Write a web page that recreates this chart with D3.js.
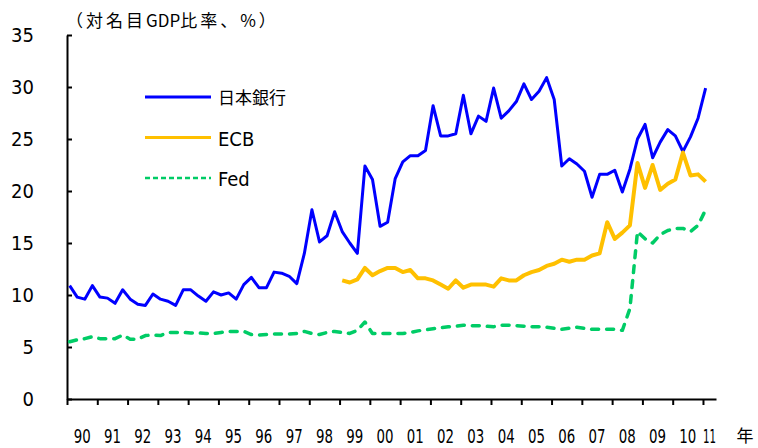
<!DOCTYPE html>
<html>
<head>
<meta charset="utf-8">
<script src="https://cdn.jsdelivr.net/npm/d3@7"></script>
<style>
  body { margin: 0; background: #fff; }
  svg text { font-family: "Liberation Sans Narrow", "DejaVu Sans Condensed", sans-serif; fill: #000; }
  svg text.jp { font-family: "Noto Sans CJK JP", sans-serif; }
</style>
</head>
<body>
<svg id="chart"></svg>
<script>
// tick labels
const yearLabels = ["90","91","92","93","94","95","96","97","98","99","00",
  "01","02","03","04","05","06","07","08","09","10","11"];
const yTicks = [0, 5, 10, 15, 20, 25, 30, 35];

// quarterly series, first value = 1990 Q1 unless a start index is given
const bojStart = 0;
const boj = [10.9,9.8,9.6,10.9, 9.8,9.7,9.2,10.5, 9.6,9.1,9.0,10.1, 9.6,9.4,9.0,10.5,
  10.5,9.9,9.4,10.3, 10.0,10.2,9.6,11.0, 11.7,10.7,10.7,12.2, 12.1,11.8,11.1,14.0,
  18.2,15.1,15.7,18.0, 16.1,15.0,14.0,22.4, 21.1,16.6,17.0,21.2, 22.8,23.4,23.4,23.9,
  28.2,25.3,25.3,25.5, 29.2,25.5,27.2,26.7, 29.9,27.0,27.7,28.6, 30.3,28.8,29.6,30.9,
  28.8,22.4,23.1,22.6, 21.9,19.4,21.6,21.6, 22.0,19.9,22.1,25.0, 26.4,23.2,24.7,25.9,
  25.3,23.8,25.2,27.0, 29.9];

const ecbStart = 36; // 1999 Q1
const ecb = [11.4,11.2,11.5,12.6, 11.9,12.3,12.6,12.6, 12.2,12.4,11.6,11.6,
  11.4,11.0,10.6,11.4, 10.7,11.0,11.0,11.0, 10.8,11.6,11.4,11.4, 11.9,12.2,12.4,12.8,
  13.0,13.4,13.2,13.4, 13.4,13.8,14.0,17.0, 15.4,16.0,16.7,22.7, 20.3,22.5,20.1,20.7,
  21.1,23.7,21.5,21.6, 20.9];

const fedStart = 0;
const fed = [5.5,5.7,5.8,6.0, 5.8,5.8,5.8,6.15, 5.75,5.75,6.1,6.15, 6.1,6.4,6.4,6.4,
  6.35,6.35,6.3,6.3, 6.4,6.5,6.5,6.5, 6.2,6.15,6.2,6.25, 6.25,6.25,6.3,6.5,
  6.3,6.2,6.4,6.5, 6.4,6.3,6.6,7.4, 6.3,6.3,6.3,6.3, 6.3,6.4,6.55,6.65,
  6.75,6.85,6.95,7.0, 7.1,7.05,7.05,7.0, 6.95,7.1,7.1,7.05, 7.0,6.95,6.95,6.9,
  6.8,6.7,6.8,6.9, 6.8,6.7,6.7,6.7, 6.7,6.6,8.7,16.1, 15.4,15.0,15.8,16.2,
  16.4,16.4,16.1,16.7, 18.2];

const seriesDefs = [
  { name: "日本銀行", values: boj, start: bojStart, color: "#0000ff", width: 3, dash: null, jp: true },
  { name: "ECB", values: ecb, start: ecbStart, color: "#ffc000", width: 4, dash: null, jp: false },
  { name: "Fed", values: fed, start: fedStart, color: "#00cc66", width: 3.5, dash: "7,8", jp: false }
];

const width = 758, height = 448;
const margin = { left: 67, right: 42, top: 35, bottom: 49 };

const svg = d3.select("#chart").attr("width", width).attr("height", height);

const x = d3.scaleLinear().domain([1990, 2011.43]).range([margin.left, width - margin.right]);
const y = d3.scaleLinear().domain([0, 35]).range([height - margin.bottom, margin.top]);

const qTime = i => 1990 + (i + 0.35) / 4;

// y axis
const yAxisG = svg.append("g")
  .attr("transform", `translate(${margin.left},0)`)
  .call(d3.axisLeft(y).tickValues(yTicks).tickSize(-5).tickSizeOuter(0).tickPadding(33));
yAxisG.selectAll("path, line").attr("stroke", "#000").attr("stroke-width", 2);
yAxisG.selectAll("text").attr("font-size", 20).attr("font-family", null);

// x axis: ticks at year boundaries, labels centered in each year
const yearTicks = d3.range(1990, 2012);
const xAxisG = svg.append("g")
  .attr("transform", `translate(0,${y(0)})`)
  .call(d3.axisBottom(x).tickValues(yearTicks).tickFormat("").tickSize(6).tickSizeOuter(0));
xAxisG.selectAll("path, line").attr("stroke", "#000").attr("stroke-width", 2);

svg.append("g")
  .selectAll("text")
  .data(yearLabels)
  .join("text")
    .attr("x", (d, i) => (x(1990 + i) + Math.min(x(1991 + i), x.range()[1])) / 2)
    .attr("y", 443)
    .attr("text-anchor", "middle")
    .attr("font-size", 20)
    .attr("textLength", (d, i) => i === yearLabels.length - 1 ? 13 : 17)
    .attr("lengthAdjust", "spacingAndGlyphs")
    .text(d => d);

svg.append("text")
  .attr("class", "jp")
  .attr("x", 745).attr("y", 442)
  .attr("text-anchor", "middle")
  .attr("font-size", 17)
  .text("年");

// axis title: wide spacing on the full-width characters only
const title = svg.append("text")
  .attr("class", "jp")
  .attr("x", 66).attr("y", 27)
  .attr("font-size", 17);
[["（対名目", 3], ["GDP", 0], ["比率、%）", 3]].forEach(([t, ls]) => {
  title.append("tspan").attr("letter-spacing", ls).text(t);
});

// lines
const line = d3.line()
  .x(d => x(qTime(d.i)))
  .y(d => y(d.v));

svg.append("g")
  .selectAll("path")
  .data(seriesDefs)
  .join("path")
    .attr("fill", "none")
    .attr("stroke", d => d.color)
    .attr("stroke-width", d => d.width)
    .attr("stroke-linejoin", "round")
    .attr("stroke-linecap", d => d.dash ? "round" : "butt")
    .attr("stroke-dasharray", d => d.dash)
    .attr("d", d => line(d.values.map((v, k) => ({ i: d.start + k, v }))));

// legend
const legend = svg.append("g")
  .selectAll("g")
  .data(seriesDefs)
  .join("g")
    .attr("transform", (d, i) => `translate(145,${97 + i * 40.5})`);

legend.append("line")
  .attr("x1", 0).attr("x2", 66)
  .attr("stroke", d => d.color)
  .attr("stroke-width", d => d.dash ? 2.5 : 3)
  .attr("stroke-dasharray", d => d.dash ? "5,3" : null);

legend.append("text")
  .attr("class", d => d.jp ? "jp" : null)
  .attr("x", 73)
  .attr("y", d => d.jp ? 7 : 8)
  .attr("font-size", d => d.jp ? 17 : 20)
  .text(d => d.name);
</script>
</body>
</html>
